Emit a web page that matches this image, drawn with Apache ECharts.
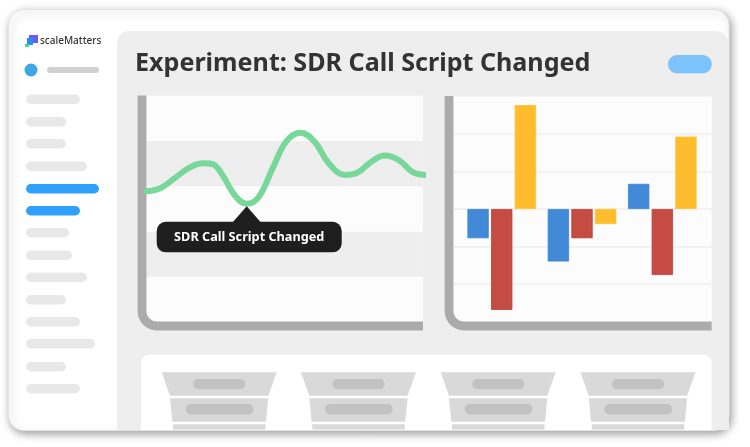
<!DOCTYPE html>
<html>
<head>
<meta charset="utf-8">
<style>
  html, body { margin: 0; padding: 0; background: #fff; }
  #chart { width: 750px; height: 447px; }
</style>
<script src="https://cdn.jsdelivr.net/npm/echarts@6/dist/echarts.min.js"></script>
</head>
<body>
<div id="chart"></div>
<script>
// values
var lineX = [0, 14, 28, 42, 56, 66, 76, 88, 100, 112, 126, 140, 154, 168, 182, 198, 210, 224, 238, 252, 266, 278];
var lineY = [2.89, 2.96, 3.18, 3.40, 3.51, 3.49, 3.24, 2.80, 2.61, 2.76, 3.40, 4.00, 4.18, 3.98, 3.51, 3.25, 3.29, 3.53, 3.68, 3.58, 3.31, 3.25];
var barGroups = [1, 2, 3];
var blueValues = [-0.78, -1.40, 0.67];
var redValues = [-2.69, -0.78, -1.76];
var yellowValues = [2.77, -0.40, 1.93];
var calloutIndex = 8;
var calloutText = 'SDR Call Script Changed';
var titleText = 'Experiment: SDR Call Script Changed';
var logoText = 'scaleMatters';

// sidebar placeholders: [y, right edge, colour]
var sideItems = [
  [94.5, 80, '#e8e8e8'], [117, 66, '#e8e8e8'], [139, 66, '#e8e8e8'], [161.5, 87, '#e8e8e8'],
  [184, 99, '#2fa0fb'], [206, 80, '#2fa0fb'],
  [228, 69, '#e8e8e8'], [250.5, 72, '#e8e8e8'], [272.5, 87, '#e8e8e8'], [295, 66, '#e8e8e8'],
  [317, 80, '#e8e8e8'], [339, 95, '#e8e8e8'], [362, 66, '#e8e8e8'], [384, 80, '#e8e8e8']
];
var funnelOffsets = [0, 139.3, 279, 418.8];

var rect = function (x, y, w, h, r, fill, z, extra) {
  var el = { type: 'rect', z: z, silent: true, shape: { x: x, y: y, width: w, height: h, r: r }, style: { fill: fill } };
  if (extra) { Object.assign(el.style, extra); }
  return el;
};
var poly = function (points, fill, z) {
  return { type: 'polygon', z: z, silent: true, shape: { points: points }, style: { fill: fill } };
};
// thick L-shaped axis with a rounded corner
var axisL = function (x, top, bottom, right) {
  var stroke = { stroke: '#ababab', lineWidth: 8.8, fill: 'none' };
  var r = 15;
  return [
    { type: 'line', z: 1, silent: true, shape: { x1: x, y1: top, x2: x, y2: bottom - r }, style: stroke },
    { type: 'arc', z: 1, silent: true, shape: { cx: x + r, cy: bottom - r, r: r, startAngle: Math.PI / 2, endAngle: Math.PI, clockwise: true }, style: stroke },
    { type: 'line', z: 1, silent: true, shape: { x1: x + r, y1: bottom, x2: right, y2: bottom }, style: stroke }
  ];
};

var graphics = [];
// card and panels
graphics.push(rect(8.5, 9.5, 720.5, 421, 15, '#fff', -30, {
  stroke: '#e4e4e4', lineWidth: 1, shadowBlur: 9, shadowOffsetX: 2, shadowOffsetY: 3, shadowColor: 'rgba(0,0,0,0.38)'
}));
graphics.push(rect(117, 31, 612, 399, [12, 14, 0, 0], '#eeeeee', -20));
graphics.push(rect(146.7, 95.7, 276, 230, [0, 0, 0, 12], '#fcfcfc', -15));
graphics.push(rect(453.3, 96.5, 258.4, 230, [0, 0, 0, 12], '#fcfcfc', -15));
graphics.push(rect(141, 354.7, 570.5, 75.3, [8, 8, 0, 0], '#fff', -15));

// logo
graphics.push(rect(29, 35, 9, 8, 0, '#6a5cf2', -10));
graphics.push(rect(27, 38, 6, 7, 0, '#2b8def', -9));
graphics.push(rect(25, 44, 4, 3, 0, '#3fd8b2', -9));
graphics.push({ type: 'text', z: 5, silent: true, style: {
  x: 40, y: 41.5, text: logoText, fill: '#333', verticalAlign: 'middle',
  font: '500 10px "Noto Sans"'
} });

// sidebar
graphics.push({ type: 'circle', z: -10, silent: true, shape: { cx: 31, cy: 70, r: 6.5 }, style: { fill: '#3ea6e3' } });
graphics.push(rect(47, 67, 52, 6, 3, '#d0d0d0', -10));
sideItems.forEach(function (s) {
  graphics.push(rect(26, s[0], s[1] - 26, 9.5, 4.75, s[2], -10));
});

// header
graphics.push({ type: 'text', z: 5, silent: true, style: {
  x: 135, y: 64, text: titleText, fill: '#333333', verticalAlign: 'middle',
  font: '700 25.1px "Noto Sans"'
} });
graphics.push(rect(668, 55, 43.7, 18.3, 9, '#7cc2fb', -10));

graphics = graphics.concat(axisL(142, 95.5, 326, 423), axisL(449, 96, 326, 711.7));

// funnel placeholders, cut off by the card edge
funnelOffsets.forEach(function (dx) {
  graphics.push(poly([[161.7 + dx, 372.3], [276.7 + dx, 372.3], [268.3 + dx, 395.7], [170 + dx, 395.7]], '#d9d9d9', -10));
  graphics.push(poly([[170 + dx, 398.3], [268.3 + dx, 398.3], [266 + dx, 421.7], [172.3 + dx, 421.7]], '#d9d9d9', -10));
  graphics.push(rect(173 + dx, 424.3, 92.5, 5.2, 0, '#d9d9d9', -10));
  graphics.push(rect(193.3 + dx, 379, 52, 10.3, 5, '#c2c2c2', -9));
  graphics.push(rect(185.7 + dx, 404, 67.6, 10.5, 5, '#c2c2c2', -9));
});

var chart = echarts.init(document.getElementById('chart'), null, { renderer: 'canvas' });

var barSeries = function (name, values, color, edge) {
  return {
    name: name, type: 'bar', xAxisIndex: 1, yAxisIndex: 1,
    data: values.map(function (v, i) { return [barGroups[i], v]; }),
    barWidth: 21.3, barGap: '11%',
    itemStyle: { color: color, borderColor: edge, borderWidth: 0.8 },
    silent: true, animation: false
  };
};

chart.setOption({
  animation: false,
  backgroundColor: '#fff',
  graphic: { elements: graphics },
  grid: [
    { left: 146.7, top: 95.7, width: 276, height: 226.3 },
    { left: 453.3, top: 96.5, width: 258.4, height: 225 }
  ],
  xAxis: [
    { type: 'value', gridIndex: 0, min: 0, max: 276, show: false, splitLine: { show: false } },
    { type: 'value', gridIndex: 1, min: 0.397, max: 3.615, show: false, splitLine: { show: false } }
  ],
  yAxis: [
    {
      type: 'value', gridIndex: 0, min: 0, max: 5, interval: 1,
      axisLine: { show: false }, axisTick: { show: false }, axisLabel: { show: false },
      splitLine: { show: false },
      splitArea: { show: true, areaStyle: { color: ['#fcfcfc', '#eeeeee'] } }
    },
    {
      type: 'value', gridIndex: 1, min: -3, max: 3, interval: 1,
      axisLine: { show: false }, axisTick: { show: false }, axisLabel: { show: false },
      splitLine: { show: true, showMinLine: false, showMaxLine: false, lineStyle: { color: '#efefef', width: 1.5 } }
    }
  ],
  series: [
    {
      type: 'line', xAxisIndex: 0, yAxisIndex: 0, z: 3,
      data: lineX.map(function (x, i) { return [x, lineY[i]]; }),
      smooth: 0.4, showSymbol: false, clip: false, silent: true,
      lineStyle: { color: '#78d89a', width: 6, cap: 'round' },
      markPoint: {
        silent: true, animation: false,
        data: [{
          coord: [lineX[calloutIndex], lineY[calloutIndex]],
          symbol: 'triangle', symbolSize: [28, 16], symbolOffset: [0, 10.5],
          itemStyle: { color: '#1e1e1e' },
          label: {
            show: true, formatter: calloutText, position: 'bottom', distance: -1, offset: [2.5, 0.5],
            color: '#fff', fontFamily: 'Noto Sans', fontWeight: 700, fontSize: 12.7,
            backgroundColor: '#1e1e1e', borderRadius: 9,
            width: 185, height: 30.5, lineHeight: 30.5, align: 'center'
          }
        }]
      }
    },
    barSeries('blue', blueValues, '#4289d8', '#3a84d8'),
    barSeries('red', redValues, '#c54c42', '#bc3f35'),
    barSeries('yellow', yellowValues, '#ffbd2e', '#ffc02a')
  ]
});
</script>
</body>
</html>
